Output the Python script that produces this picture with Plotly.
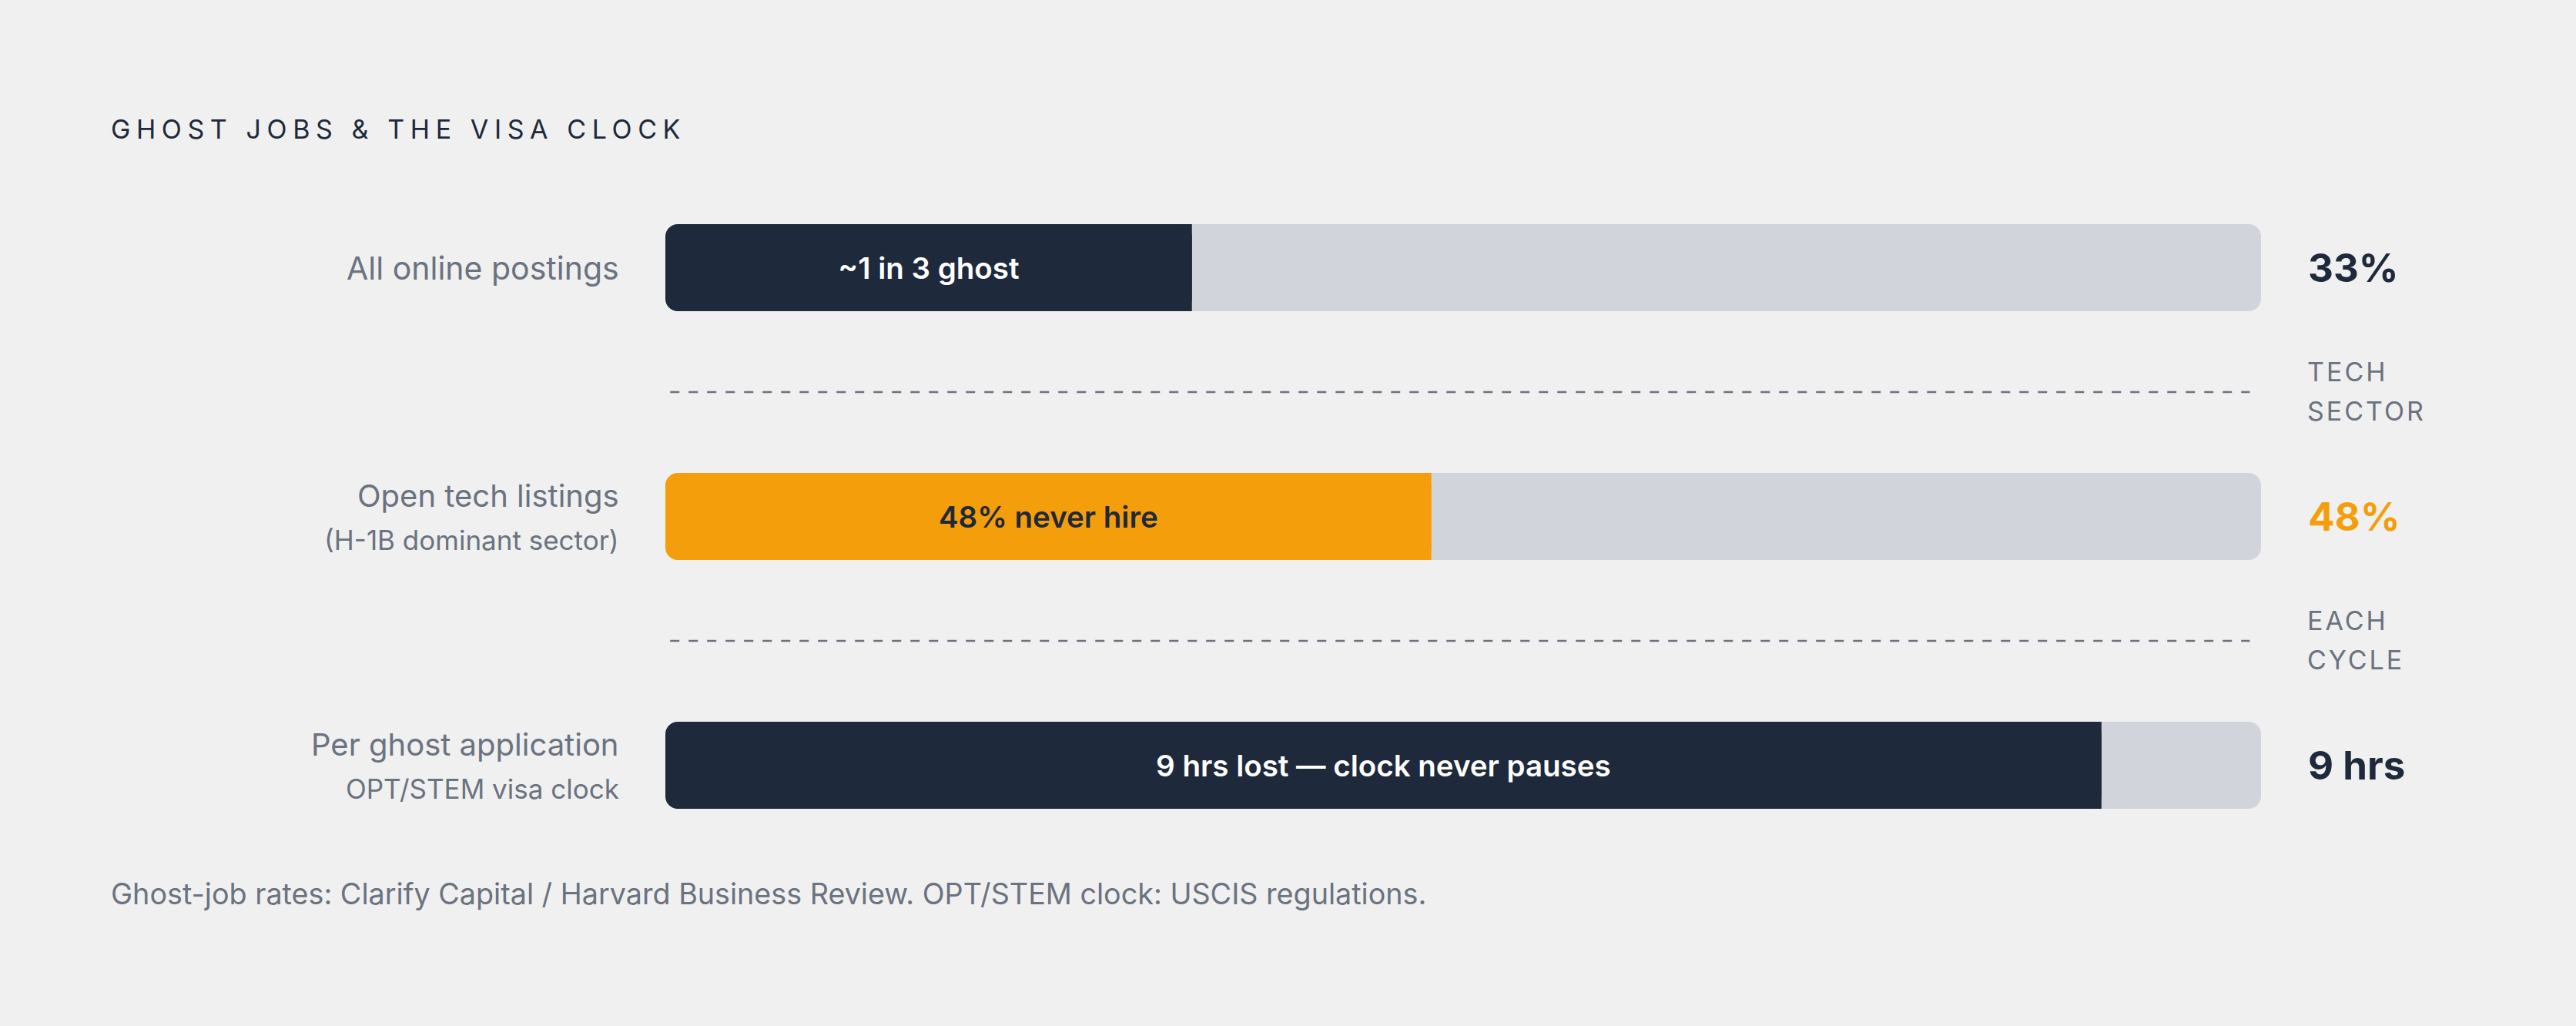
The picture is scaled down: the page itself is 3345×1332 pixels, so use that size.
import plotly.graph_objects as go

# ---------------- data ----------------
categories = ["All online postings", "Open tech listings", "Per ghost application"]
subtitles = ["", "(H-1B dominant sector)", "OPT/STEM visa clock"]
values = [33, 48, 9]
scale_max = [100, 100, 10]
value_labels = ["33%", "48%", "9 hrs"]
bar_texts = ["~1 in 3 ghost", "48% never hire", "9 hrs lost \u2014 clock never pauses"]
divider_labels = [["TECH", "SECTOR"], ["EACH", "CYCLE"]]
title_text = "GHOST JOBS &amp; THE VISA CLOCK"
source_text = "Ghost-job rates: Clarify Capital / Harvard Business Review. OPT/STEM clock: USCIS regulations."

# ---------------- style ----------------
BG = "#f0f0f0"
NAVY = "#1e293b"
ORANGE = "#f59e0b"
TRACK = "#d1d5db"
GRAY = "#6b7280"
WHITE = "#ffffff"
FONT = "Inter, 'DejaVu Sans', sans-serif"

fill_colors = [NAVY, ORANGE, NAVY]
bar_text_colors = [WHITE, NAVY, WHITE]
value_colors = [NAVY, ORANGE, NAVY]

W, H = 3345, 1332
ML, MR, MT, MB = 864, 409, 186, 177
PW, PH = W - ML - MR, H - MT - MB


def px_x(px):
    return (px - ML) / PW


def px_y(py):
    return 1 - (py - MT) / PH


fractions = [v / m for v, m in zip(values, scale_max)]
ypos = list(range(len(categories)))
BAR_W = 0.35

fig = go.Figure()

# remaining track (rounded on the right end); its left part hides under the fill
fig.add_trace(go.Bar(
    orientation="h",
    y=ypos,
    base=[f / 2 for f in fractions],
    x=[1 - f / 2 for f in fractions],
    width=BAR_W,
    marker=dict(color=TRACK, cornerradius=16, line=dict(width=0)),
    hoverinfo="skip",
    showlegend=False,
))

# square-ended right part of the fill (keeps the fill/track junction square)
fig.add_trace(go.Bar(
    orientation="h",
    y=ypos,
    base=[f / 2 for f in fractions],
    x=[f / 2 for f in fractions],
    width=BAR_W,
    marker=dict(color=fill_colors, cornerradius=0, line=dict(width=0)),
    hoverinfo="skip",
    showlegend=False,
))

# full fill, drawn from value back to zero so the left end is rounded
fig.add_trace(go.Bar(
    orientation="h",
    y=ypos,
    base=fractions,
    x=[-f for f in fractions],
    width=BAR_W,
    marker=dict(color=fill_colors, cornerradius=16, line=dict(width=0)),
    text=bar_texts,
    textposition="inside",
    insidetextanchor="middle",
    textangle=0,
    constraintext="none",
    insidetextfont=dict(family=FONT, size=38.5, color=bar_text_colors, weight=600),
    hoverinfo="skip",
    showlegend=False,
))

# dashed dividers between rows
for i in range(len(divider_labels)):
    yd = ypos[i] + 0.5
    fig.add_trace(go.Scatter(
        x=[0.003, 0.993], y=[yd, yd], mode="lines",
        line=dict(color=GRAY, width=2.5, dash="12px,12px"),
        hoverinfo="skip", showlegend=False,
    ))

annotations = []

# category labels
for i, (cat, sub) in enumerate(zip(categories, subtitles)):
    if sub:
        annotations.append(dict(
            xref="paper", yref="y", x=px_x(806), y=ypos[i], yshift=27,
            text=cat, xanchor="right", yanchor="middle", showarrow=False,
            font=dict(family=FONT, size=40, color=GRAY)))
        annotations.append(dict(
            xref="paper", yref="y", x=px_x(806), y=ypos[i], yshift=-30,
            text=sub, xanchor="right", yanchor="middle", showarrow=False,
            font=dict(family=FONT, size=35, color=GRAY)))
    else:
        annotations.append(dict(
            xref="paper", yref="y", x=px_x(806), y=ypos[i],
            text=cat, xanchor="right", yanchor="middle", showarrow=False,
            font=dict(family=FONT, size=41, color=GRAY)))

# value labels at right
for i, lab in enumerate(value_labels):
    annotations.append(dict(
        xref="paper", yref="y", x=px_x(2995), y=ypos[i],
        text=lab, xanchor="left", yanchor="middle", showarrow=False,
        font=dict(family=FONT, size=51, color=value_colors[i], weight=700)))

# divider labels at right
for i, (l1, l2) in enumerate(divider_labels):
    yd = ypos[i] + 0.5
    for txt, sh in ((l1, 27), (l2, -24)):
        annotations.append(dict(
            xref="paper", yref="y", x=px_x(2994), y=yd, yshift=sh,
            text='<span style="letter-spacing:3px">' + txt + "</span>",
            xanchor="left", yanchor="middle", showarrow=False,
            font=dict(family=FONT, size=34, color=GRAY)))

# title
annotations.append(dict(
    xref="paper", yref="paper", x=px_x(142), y=px_y(167),
    text='<span style="letter-spacing:7.6px">' + title_text + "</span>",
    xanchor="left", yanchor="middle", showarrow=False,
    font=dict(family=FONT, size=34, color=NAVY)))

# source note
annotations.append(dict(
    xref="paper", yref="paper", x=px_x(142), y=px_y(1160),
    text=source_text, xanchor="left", yanchor="middle", showarrow=False,
    font=dict(family=FONT, size=37.7, color=GRAY)))

fig.update_layout(
    width=W, height=H,
    margin=dict(l=ML, r=MR, t=MT, b=MB, autoexpand=False),
    paper_bgcolor=BG, plot_bgcolor=BG,
    barmode="overlay",
    xaxis=dict(range=[0, 1], visible=False, fixedrange=True),
    yaxis=dict(range=[2.5, -0.5], visible=False, fixedrange=True),
    annotations=annotations,
    font=dict(family=FONT, color=GRAY),
)

fig.write_html("out.html", config={"displayModeBar": False})
